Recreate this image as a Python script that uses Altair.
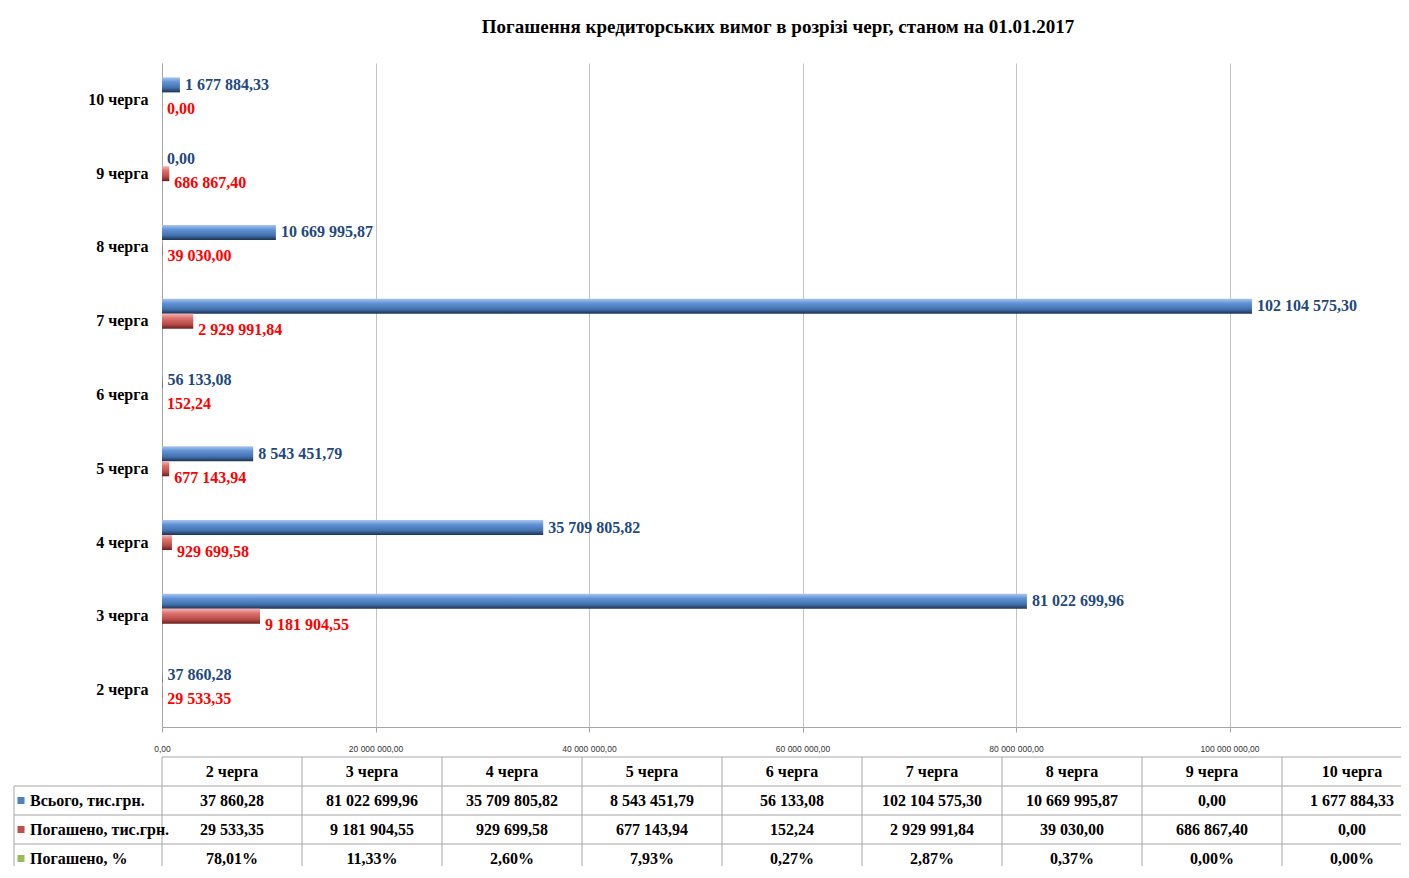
import altair as alt
import pandas as pd

# ---------------- data ----------------
categories = ["2 черга", "3 черга", "4 черга", "5 черга", "6 черга",
              "7 черга", "8 черга", "9 черга", "10 черга"]
total = [37860.28, 81022699.96, 35709805.82, 8543451.79, 56133.08,
         102104575.30, 10669995.87, 0.00, 1677884.33]
paid = [29533.35, 9181904.55, 929699.58, 677143.94, 152.24,
        2929991.84, 39030.00, 686867.40, 0.00]
paid_pct = [78.01, 11.33, 2.60, 7.93, 0.27, 2.87, 0.37, 0.00, 0.00]
series = ["Всього, тис.грн.", "Погашено, тис.грн.", "Погашено, %"]
series_colors = ["#4f81bd", "#c0504d", "#9bbb59"]
x_ticks = [0, 20e6, 40e6, 60e6, 80e6, 100e6]
title_text = "Погашення кредиторських вимог в розрізі черг, станом на 01.01.2017"


def fmt(v):
    return f"{v:,.2f}".replace(",", " ").replace(".", ",")


SERIF = "Liberation Serif"

bars_df = pd.DataFrame({
    "cat": categories * 2,
    "series": [series[0]] * len(categories) + [series[1]] * len(categories),
    "value": total + paid,
})
bars_df["label"] = [fmt(v) for v in bars_df["value"]]

rows = ["hdr"] + series
table_df = pd.DataFrame({
    "cat": categories * 4,
    "row": ["hdr"] * 9 + [series[0]] * 9 + [series[1]] * 9 + [series[2]] * 9,
    "text": categories + [fmt(v) for v in total] + [fmt(v) for v in paid]
            + [fmt(v) + "%" for v in paid_pct],
})
series_df = pd.DataFrame({"row": series})
cats_df = pd.DataFrame({"cat": categories})
title_df = pd.DataFrame({"t": [title_text]})

# ---------------- bar part ----------------
cats_top_down = list(reversed(categories))
y_scale = alt.Scale(domain=cats_top_down, paddingInner=0.39, paddingOuter=0.195)
y_enc = alt.Y("cat:N", sort=cats_top_down, scale=y_scale,
              axis=alt.Axis(title=None, ticks=False, domain=True, domainColor="#a6a6a6",
                            labelFont=SERIF, labelFontSize=16, labelFontWeight="bold",
                            labelColor="#000000", labelPadding=14, grid=False))
y_plain = alt.Y("cat:N", sort=cats_top_down, scale=y_scale)
yoff = alt.YOffset("series:N", scale=alt.Scale(domain=series, paddingInner=0, paddingOuter=0))
x_scale = alt.Scale(domain=[0, 120e6], range=[0, 1281], nice=False)
x_enc = alt.X("value:Q", scale=x_scale,
              axis=alt.Axis(title=None, values=x_ticks, format=",.2f", grid=True,
                            gridColor="#c4c4c4", domainColor="#a6a6a6", tickColor="#a6a6a6",
                            tickSize=5, labelFont="Liberation Sans", labelFontSize=8.5,
                            labelColor="#333333", labelPadding=12, labelFlush=False))
x_plain = alt.X("value:Q", scale=x_scale)

blue_grad = alt.Gradient(gradient="linear", x1=0, x2=0, y1=0, y2=1, stops=[
    alt.GradientStop(color="#a9c6ec", offset=0),
    alt.GradientStop(color="#6193d6", offset=0.3),
    alt.GradientStop(color="#4371ad", offset=0.7),
    alt.GradientStop(color="#1c3252", offset=1),
])
red_grad = alt.Gradient(gradient="linear", x1=0, x2=0, y1=0, y2=1, stops=[
    alt.GradientStop(color="#f5b5b3", offset=0),
    alt.GradientStop(color="#dc716e", offset=0.3),
    alt.GradientStop(color="#b84b48", offset=0.7),
    alt.GradientStop(color="#6a1f1d", offset=1),
])

base = alt.Chart(bars_df)
blue_bars = base.transform_filter(alt.datum.series == series[0]).mark_bar(
    color=blue_grad).encode(x=x_enc, y=y_enc, yOffset=yoff)
red_bars = base.transform_filter(alt.datum.series == series[1]).mark_bar(
    color=red_grad).encode(x=x_plain, y=y_plain, yOffset=yoff)
blue_lab = base.transform_filter(alt.datum.series == series[0]).mark_text(
    align="left", baseline="middle", dx=5, font=SERIF, fontSize=16, fontWeight="bold",
    color="#1f497d").encode(x=x_plain, y=y_plain, yOffset=yoff, text="label:N")
red_lab = base.transform_filter(alt.datum.series == series[1]).mark_text(
    align="left", baseline="middle", dx=5, dy=9, font=SERIF, fontSize=16, fontWeight="bold",
    color="#ff0000").encode(x=x_plain, y=y_plain, yOffset=yoff, text="label:N")
title_mark = alt.Chart(title_df).mark_text(
    align="center", baseline="middle", font=SERIF, fontSize=19, fontWeight="bold",
    color="#000000").encode(x=alt.value(616), y=alt.value(-36), text="t:N")

bar_group = alt.layer(blue_bars, red_bars, blue_lab, red_lab, title_mark)

# ---------------- table part ----------------
tx_scale = alt.Scale(domain=categories, range=[0, 1260], paddingInner=0, paddingOuter=0)
ty_scale = alt.Scale(domain=rows, range=[694, 810], paddingInner=0, paddingOuter=0)
LINE = "#a6a6a6"

t_text = alt.Chart(table_df).mark_text(
    font=SERIF, fontSize=16, fontWeight="bold", color="#000000", baseline="middle").encode(
    x=alt.X("cat:N", scale=tx_scale, axis=None),
    y=alt.Y("row:N", scale=ty_scale, axis=None),
    text="text:N")
t_vlines = alt.Chart(cats_df).mark_rule(color=LINE, strokeWidth=1).encode(
    x=alt.X("cat:N", scale=tx_scale, bandPosition=0, axis=None),
    y=alt.value(694), y2=alt.value(830))
t_left = alt.Chart(series_df.head(1)).mark_rule(color=LINE, strokeWidth=1).encode(
    x=alt.value(-148), y=alt.value(723), y2=alt.value(830))
t_hdr_line = alt.Chart(pd.DataFrame({"row": ["hdr"]})).mark_rule(color=LINE, strokeWidth=1).encode(
    y=alt.Y("row:N", scale=ty_scale, bandPosition=0, axis=None),
    x=alt.value(0), x2=alt.value(1283))
t_hlines = alt.Chart(series_df).mark_rule(color=LINE, strokeWidth=1).encode(
    y=alt.Y("row:N", scale=ty_scale, bandPosition=0, axis=None),
    x=alt.value(-148), x2=alt.value(1283))
t_labels = alt.Chart(series_df).mark_text(
    align="left", baseline="middle", font=SERIF, fontSize=16, fontWeight="bold",
    color="#000000").encode(
    x=alt.value(-132), y=alt.Y("row:N", scale=ty_scale, axis=None), text="row:N")
t_keys = alt.Chart(series_df).mark_square(size=50, opacity=1).encode(
    x=alt.value(-141), y=alt.Y("row:N", scale=ty_scale, axis=None),
    color=alt.Color("row:N", scale=alt.Scale(domain=series, range=series_colors), legend=None))

table_group = alt.layer(t_vlines, t_left, t_hdr_line, t_hlines, t_text, t_labels, t_keys)

chart = alt.layer(bar_group, table_group).resolve_scale(
    x="independent", y="independent"
).properties(
    width=1239, height=664,
    padding={"left": 154, "top": 55, "right": 0, "bottom": 139},
    autosize=alt.AutoSizeParams(type="none"),
).configure(
    locale={"number": {"decimal": ",", "thousands": "\u00a0", "grouping": [3],
                       "currency": ["", ""]}},
).configure_view(stroke="transparent")

chart.save("out.html", embed_options={"renderer": "svg", "actions": False})
